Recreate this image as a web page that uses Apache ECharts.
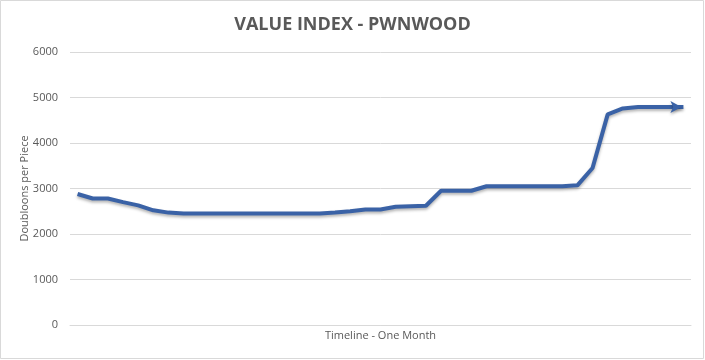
<!DOCTYPE html>
<html>
<head>
<meta charset="utf-8">
<script src="https://cdn.jsdelivr.net/npm/echarts@6/dist/echarts.min.js"></script>
<style>
html,body{margin:0;padding:0;background:#fff;}
#chart{width:705px;height:360px;}
</style>
</head>
<body>
<div id="chart"></div>
<script>
const titleText = "VALUE INDEX - PWNWOOD";
const xAxisName = "Timeline - One Month";
const yAxisName = "Doubloons per Piece";
const categories = ["1","2","3","4","5","6","7","8","9","10","11","12","13","14","15","16","17","18","19","20","21","22","23","24","25","26","27","28","29","30","31","32","33","34","35","36","37","38","39","40","41"];
const values = [2880,2780,2780,2700,2630,2520,2470,2450,2450,2450,2450,2450,2450,2450,2450,2450,2450,2470,2500,2540,2540,2600,2610,2620,2950,2950,2950,3050,3050,3050,3050,3050,3050,3070,3450,4630,4760,4790,4790,4790,4790];
const yMin = 0, yMax = 6000, yStep = 1000;

const font = "'Open Sans', 'Liberation Sans', sans-serif";
const lineColor = "#3A62A6";

const seriesData = values.map((v, i) => {
  if (i === values.length - 1) {
    return {value: v, symbol: 'arrow', symbolSize: [9, 11], symbolRotate: -90, symbolOffset: [-2, 0],
            itemStyle: {color: lineColor, shadowColor: 'rgba(0,0,0,0.3)', shadowBlur: 3, shadowOffsetY: 2}};
  }
  return {value: v, symbol: 'none'};
});

const chart = echarts.init(document.getElementById('chart'), null, {renderer: 'canvas'});
chart.setOption({
  animation: false,
  backgroundColor: '#fff',
  title: {
    text: titleText,
    left: 'center',
    top: 11,
    textStyle: {fontFamily: font, fontSize: 18, fontWeight: 'bold', color: '#595959'}
  },
  graphic: [{
    type: 'rect', shape: {x: 0.5, y: 0.5, width: 703, height: 358},
    style: {fill: 'none', stroke: '#d9d9d9', lineWidth: 1}, silent: true, z: -1
  }],
  grid: {left: 70, right: 14, top: 52, bottom: 35, containLabel: false},
  xAxis: {
    type: 'category',
    data: categories,
    boundaryGap: true,
    name: xAxisName,
    nameLocation: 'middle',
    nameGap: 5,
    nameTextStyle: {fontFamily: font, fontSize: 11, color: '#595959'},
    axisLine: {show: true, lineStyle: {color: '#d9d9d9', width: 1}},
    axisTick: {show: false},
    axisLabel: {show: false},
    splitLine: {show: false}
  },
  yAxis: {
    type: 'value',
    min: yMin, max: yMax, interval: yStep,
    name: yAxisName,
    nameLocation: 'middle',
    nameGap: 40,
    nameMoveOverlap: false,
    nameTextStyle: {fontFamily: font, fontSize: 11, color: '#595959'},
    axisLine: {show: false},
    axisTick: {show: false},
    axisLabel: {fontFamily: font, fontSize: 11, color: '#595959', margin: 12, formatter: (v) => String(v)},
    splitLine: {lineStyle: {color: '#d9d9d9', width: 1}}
  },
  series: [{
    type: 'line',
    data: seriesData,
    showSymbol: true,
    showAllSymbol: true,
    lineStyle: {color: lineColor, width: 4, shadowColor: 'rgba(0,0,0,0.3)', shadowBlur: 3, shadowOffsetY: 2},
    itemStyle: {color: lineColor},
    z: 3
  }]
});
</script>
</body>
</html>
